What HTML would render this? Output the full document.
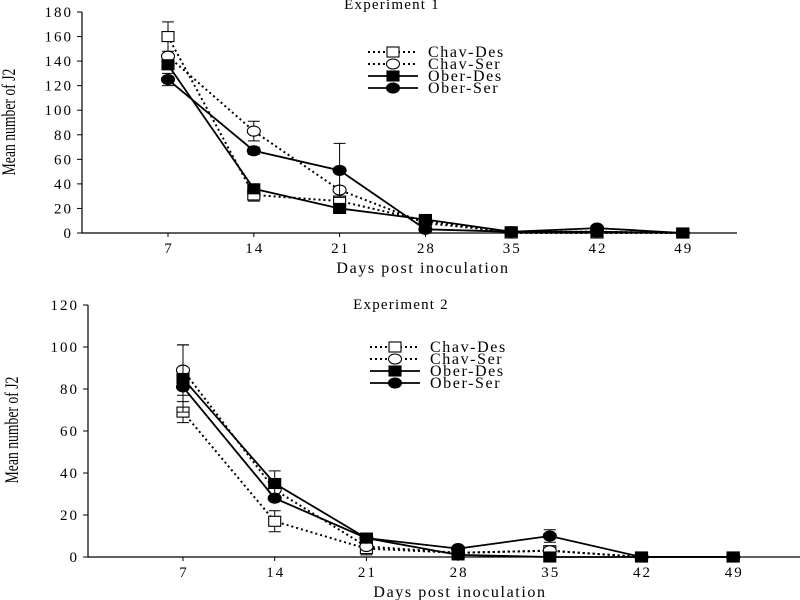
<!DOCTYPE html>
<html><head><meta charset="utf-8"><style>
body{margin:0;background:#fff;}
svg{display:block;font-family:"Liberation Serif",serif;}
</style></head><body>
<svg id="c" width="800" height="600" viewBox="0 0 800 600"></svg>
<script>
const days = [7,14,21,28,35,42,49];
const seriesNames = ["Chav-Des","Chav-Ser","Ober-Des","Ober-Ser"];
// Experiment 1
const e1ChavDes = [160,31,26,10,0,0,0];
const e1ChavSer = [144,83,35,8,1,1,0];
const e1OberDes = [137,36,20,11,1,1,0];
const e1OberSer = [125,67,51,3,1,4,0];
const e1ErrChavDes = [12,5,0,0,0,0,0];
const e1ErrChavSer = [0,8,0,0,0,0,0];
const e1ErrOberDes = [0,0,0,0,0,0,0];
const e1ErrOberSer = [5,3,22,0,0,0,0];
const e1YTicks = [0,20,40,60,80,100,120,140,160,180];
// Experiment 2
const e2ChavDes = [69,17,4,2,3,0,0];
const e2ChavSer = [89,32,5,2,3,0,0];
const e2OberDes = [85,35,9,1,0,0,0];
const e2OberSer = [81,28,9,4,10,0,0];
const e2ErrChavDes = [5,5,3,0,0,0,0];
const e2ErrChavSer = [12,0,0,0,0,0,0];
const e2ErrOberDes = [16,6,1,0,0,0,0];
const e2ErrOberSer = [0,0,0,0,3,0,0];
const e2YTicks = [0,20,40,60,80,100,120];

const NS="http://www.w3.org/2000/svg";
const svg=document.getElementById('c');
function mk(tag,attrs,parent){const e=document.createElementNS(NS,tag);for(const k in attrs)e.setAttribute(k,attrs[k]);(parent||svg).appendChild(e);return e;}
const styles=[{dash:"2,3",fill:"#fff",shape:"sq"},{dash:"2,3",fill:"#fff",shape:"ci"},{dash:"",fill:"#000",shape:"sq"},{dash:"",fill:"#000",shape:"ci"}];
function marker(g,s,x,y){
  let m;
  if(s.shape==="sq") m=mk('rect',{x:x-6,y:y-5,width:12,height:10,fill:s.fill,stroke:'#000','stroke-width':1.1},g);
  else m=mk('ellipse',{cx:x,cy:y,rx:6.5,ry:5,fill:s.fill,stroke:'#000','stroke-width':1.1},g);
  return m;
}
function panel(cfg){
  const g=mk('g',{});
  
  
  const xs=d=>cfg.x7+(d-7)/7*cfg.dx;
  const ys=v=>cfg.y0-v/cfg.ymax*(cfg.y0-cfg.yTop);
  const ax=mk('path',{d:`M${cfg.ax},${cfg.yTop} L${cfg.ax},${cfg.y0} L${cfg.axEnd},${cfg.y0}`,stroke:'#000',fill:'none','stroke-width':1.2},g);
  
  
  cfg.yticks.forEach(t=>{
    const y=ys(t);
    mk('line',{x1:cfg.ax-5,x2:cfg.ax,y1:y,y2:y,stroke:'#000'},g);
    const tx=mk('text',{x:cfg.ax-9,y:y+5,'text-anchor':'end','font-size':15,'letter-spacing':'2'},g);
    tx.textContent=t;
    
    
  });
  days.forEach(d=>{
    const x=xs(d);
    mk('line',{x1:x,x2:x,y1:cfg.y0,y2:cfg.y0+4,stroke:'#000'},g);
    const tx=mk('text',{x:x+1,y:cfg.y0+20,'text-anchor':'middle','font-size':15,'letter-spacing':'2'},g);
    tx.textContent=d;
    
    
  });
  cfg.data.forEach((vals,i)=>{
    const s=styles[i];
    const sg=mk('g',{},g);
    
    
    const pts=vals.map((v,j)=>xs(days[j])+','+ys(v)).join(' ');
    const pl=mk('polyline',{points:pts,fill:'none',stroke:'#000','stroke-width':s.dash?2:1.8,'stroke-dasharray':s.dash},sg);
    
    
    vals.forEach((v,j)=>{
      const e=cfg.err[i][j];
      if(e>0){
        const x=xs(days[j]);
        const eb=mk('path',{d:`M${x},${ys(v-e)} L${x},${ys(v+e)} M${x-6},${ys(v+e)} L${x+6},${ys(v+e)} M${x-6},${ys(v-e)} L${x+6},${ys(v-e)}`,stroke:'#000','stroke-width':1,fill:'none'},sg);
        
        
      }
    });
    vals.forEach((v,j)=>{
      const m=marker(sg,s,xs(days[j]),ys(v));
      
      
    });
    const ly=cfg.legY+i*12;
    const lg=mk('g',{},g);
    
    
    mk('line',{x1:cfg.legX,x2:cfg.legX+50,y1:ly,y2:ly,stroke:'#000','stroke-width':s.dash?2:1.8,'stroke-dasharray':s.dash},lg);
    marker(lg,s,cfg.legX+25,ly);
    const lt=mk('text',{x:cfg.legX+60,y:ly+5,'font-size':16,'letter-spacing':'1.6'},lg);
    lt.textContent=seriesNames[i];
  });
  const t=mk('text',{x:cfg.titleX,y:cfg.titleY,'text-anchor':'middle','font-size':15,'letter-spacing':'1.2'},g);
  t.textContent=cfg.title;
  
  
  const xt=mk('text',{x:cfg.xtX,y:cfg.xtY,'text-anchor':'middle','font-size':16,'letter-spacing':'1.6'},g);
  xt.textContent='Days post inoculation';
  
  
  const yt=mk('text',{transform:`translate(${cfg.ytX},${cfg.ytY}) rotate(-90) scale(0.72,1)`,'text-anchor':'middle','font-size':19},g);
  yt.textContent='Mean number of J2';
  
  
}
panel({name:'experiment-1-panel',x7:168,dx:85.8,y0:233,yTop:12,ymax:180,ax:82,axEnd:737,yticks:e1YTicks,
  data:[e1ChavDes,e1ChavSer,e1OberDes,e1OberSer],err:[e1ErrChavDes,e1ErrChavSer,e1ErrOberDes,e1ErrOberSer],
  legX:368,legY:52,title:'Experiment 1',titleX:392,titleY:9,xtX:423,xtY:273,ytX:15,ytY:122});
panel({name:'experiment-2-panel',x7:183,dx:91.7,y0:557,yTop:305,ymax:120,ax:88,axEnd:800,yticks:e2YTicks,
  data:[e2ChavDes,e2ChavSer,e2OberDes,e2OberSer],err:[e2ErrChavDes,e2ErrChavSer,e2ErrOberDes,e2ErrOberSer],
  legX:370,legY:347,title:'Experiment 2',titleX:401,titleY:309,xtX:460,xtY:597,ytX:18,ytY:430});
</script>
</body></html>
